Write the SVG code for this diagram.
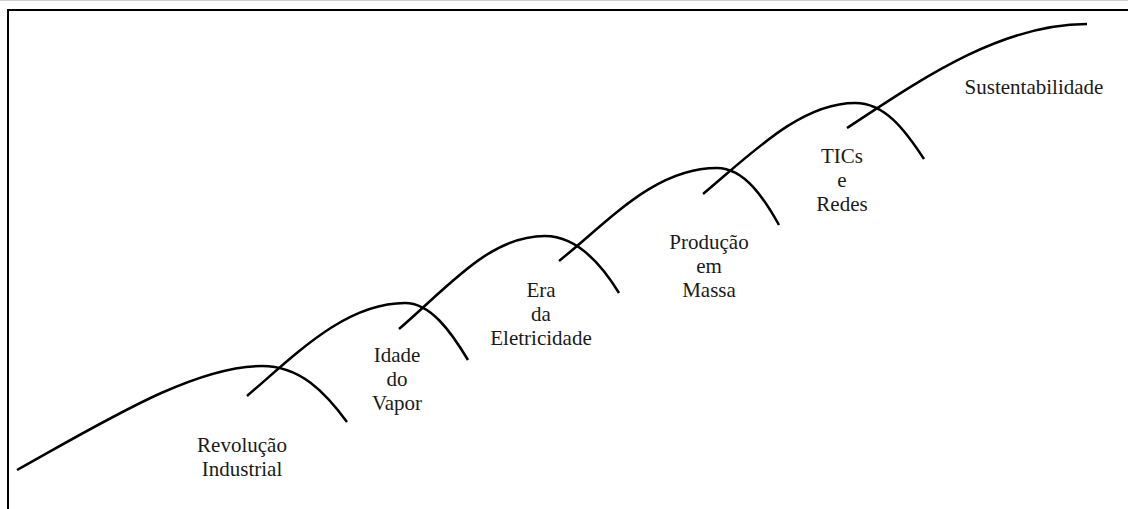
<svg xmlns="http://www.w3.org/2000/svg" width="1128" height="509" viewBox="0 0 1128 509">
  <style>
    .frame { fill: none; stroke: #000; stroke-width: 2; }
    .wave { fill: none; stroke: #000; stroke-width: 2.5; stroke-linecap: butt; }
    .label { font-family: "Liberation Serif", "Times New Roman", serif; font-size: 21px; fill: #1a1a1a; text-anchor: middle; }
  </style>
  <rect x="0" y="0" width="1128" height="509" fill="#fff"/>
  <line x1="0" y1="0.5" x2="1128" y2="0.5" stroke="#cfcfcf" stroke-width="1"/>
  <!-- outer frame (only top and left edges fall inside the canvas) -->
  <rect class="frame" x="8" y="10" width="1200" height="600"/>

  <!-- successive growth waves -->
  <g id="waves">
    <path class="wave" d="M17,470 C110,418 195,366 262,366 C300,366 325,392 347,422"/>
    <path class="wave" d="M247,396 C295,355 345,303 405,303 C430,303 450,330 468,360"/>
    <path class="wave" d="M399,329 C450,285 490,236 545,236 C575,236 600,262 619,293"/>
    <path class="wave" d="M559,261 C610,220 655,168 717,168 C745,168 765,200 779,225"/>
    <path class="wave" d="M703,194 C750,155 800,103 855,103 C885,103 905,130 924,159"/>
    <path class="wave" d="M847,128 C920,80 1000,24 1087,24"/>
  </g>

  <g id="revolucao-industrial">
    <text class="label" x="242" y="452">Revolução</text>
    <text class="label" x="242" y="476">Industrial</text>
  </g>
  <g id="idade-do-vapor">
    <text class="label" x="397" y="362">Idade</text>
    <text class="label" x="397" y="386">do</text>
    <text class="label" x="397" y="410">Vapor</text>
  </g>
  <g id="era-da-eletricidade">
    <text class="label" x="541" y="297">Era</text>
    <text class="label" x="541" y="321">da</text>
    <text class="label" x="541" y="345">Eletricidade</text>
  </g>
  <g id="producao-em-massa">
    <text class="label" x="709" y="249">Produção</text>
    <text class="label" x="709" y="273">em</text>
    <text class="label" x="709" y="297">Massa</text>
  </g>
  <g id="tics-e-redes">
    <text class="label" x="842" y="163">TICs</text>
    <text class="label" x="842" y="187">e</text>
    <text class="label" x="842" y="211">Redes</text>
  </g>
  <g id="sustentabilidade">
    <text class="label" x="1034" y="94">Sustentabilidade</text>
  </g>
</svg>
